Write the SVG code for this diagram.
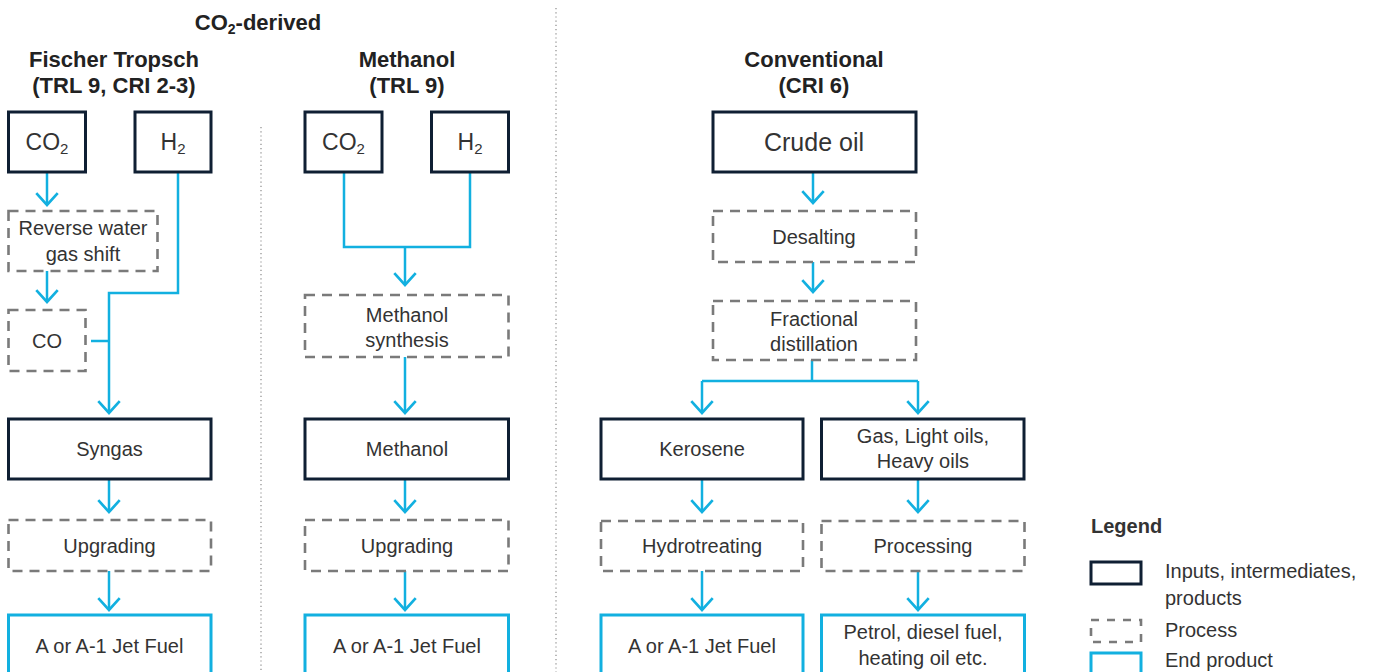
<svg xmlns="http://www.w3.org/2000/svg" width="1389" height="672" viewBox="0 0 1389 672">
  <style>
    .solid { fill: #ffffff; stroke: #0f1f33; stroke-width: 3; }
    .dash { fill: #ffffff; stroke: #7a7a7a; stroke-width: 2.6; stroke-dasharray: 10 7; }
    .end { fill: #ffffff; stroke: #12b0e0; stroke-width: 3; }
    .conn { fill: none; stroke: #12b0e0; stroke-width: 2.5; }
    .sep { fill: none; stroke: #8a8a8a; stroke-width: 1.2; stroke-dasharray: 1.2 3; }
    .t { font-family: "Liberation Sans", Arial, sans-serif; font-size: 20px; fill: #333333; text-anchor: middle; }
    .big { font-size: 23px; }
    .huge { font-size: 25px; }
    .title { font-family: "Liberation Sans", Arial, sans-serif; font-size: 22px; font-weight: bold; fill: #222222; text-anchor: middle; }
    .leg { font-family: "Liberation Sans", Arial, sans-serif; font-size: 20px; fill: #333333; }
  </style>
  <defs>
    <marker id="arrow" markerUnits="userSpaceOnUse" markerWidth="30" markerHeight="30" viewBox="-14 -14 28 28" refX="0" refY="0" orient="auto">
      <path d="M-11,-10 L0,0 L-11,10" fill="none" stroke="#12b0e0" stroke-width="2.5"/>
    </marker>
  </defs>

  <rect width="1389" height="672" fill="#ffffff"/>

  <!-- column separators -->
  <g id="separators">
    <line class="sep" x1="261" y1="127" x2="261" y2="672"/>
    <line class="sep" x1="556" y1="8" x2="556" y2="672"/>
  </g>

  <!-- headings -->
  <g id="headings">
    <text class="title" x="258" y="30">CO<tspan font-size="14" dy="4">2</tspan><tspan dy="-4">-derived</tspan></text>
    <text class="title" x="114" y="67">Fischer Tropsch</text>
    <text class="title" x="114" y="93">(TRL 9, CRI 2-3)</text>
    <text class="title" x="407" y="67">Methanol</text>
    <text class="title" x="407" y="93">(TRL 9)</text>
    <text class="title" x="814" y="67">Conventional</text>
    <text class="title" x="814" y="93">(CRI 6)</text>
  </g>

  <!-- connectors -->
  <g id="connectors">
    <path class="conn" d="M47,172 V205" marker-end="url(#arrow)"/>
    <path class="conn" d="M47,271 V302" marker-end="url(#arrow)"/>
    <path class="conn" d="M178,172 V293 H109 V413" marker-end="url(#arrow)"/>
    <path class="conn" d="M91,341 H109"/>
    <path class="conn" d="M109,479 V512" marker-end="url(#arrow)"/>
    <path class="conn" d="M109,571 V610" marker-end="url(#arrow)"/>

    <path class="conn" d="M344,172 V247 H470 V172"/>
    <path class="conn" d="M405,247 V285" marker-end="url(#arrow)"/>
    <path class="conn" d="M405,357 V413" marker-end="url(#arrow)"/>
    <path class="conn" d="M405,479 V512" marker-end="url(#arrow)"/>
    <path class="conn" d="M405,571 V610" marker-end="url(#arrow)"/>

    <path class="conn" d="M813,172 V203" marker-end="url(#arrow)"/>
    <path class="conn" d="M813,262 V292" marker-end="url(#arrow)"/>
    <path class="conn" d="M812,360 V381"/>
    <path class="conn" d="M702,381 H918"/>
    <path class="conn" d="M702,381 V413" marker-end="url(#arrow)"/>
    <path class="conn" d="M918,381 V413" marker-end="url(#arrow)"/>
    <path class="conn" d="M702,479 V512" marker-end="url(#arrow)"/>
    <path class="conn" d="M918,479 V512" marker-end="url(#arrow)"/>
    <path class="conn" d="M702,571 V610" marker-end="url(#arrow)"/>
    <path class="conn" d="M918,571 V610" marker-end="url(#arrow)"/>
  </g>

  <!-- Fischer Tropsch column -->
  <g id="ft-co2"><rect class="solid" x="8.5" y="112" width="77" height="60"/>
    <text class="t big" x="47" y="150">CO<tspan font-size="15" dy="4">2</tspan></text></g>
  <g id="ft-h2"><rect class="solid" x="135" y="112" width="76" height="60"/>
    <text class="t big" x="173" y="150">H<tspan font-size="15" dy="4">2</tspan></text></g>
  <g id="ft-rwgs"><rect class="dash" x="8.5" y="211" width="149" height="60"/>
    <text class="t" x="83" y="235">Reverse water</text>
    <text class="t" x="83" y="261">gas shift</text></g>
  <g id="ft-co"><rect class="dash" x="8.5" y="310" width="77" height="61"/>
    <text class="t" x="47" y="348">CO</text></g>
  <g id="ft-syngas"><rect class="solid" x="8.5" y="419" width="202.5" height="60"/>
    <text class="t" x="109.5" y="456">Syngas</text></g>
  <g id="ft-upgrading"><rect class="dash" x="8.5" y="520" width="202.5" height="51"/>
    <text class="t" x="109.5" y="553">Upgrading</text></g>
  <g id="ft-jetfuel"><rect class="end" x="8.5" y="615" width="202.5" height="80"/>
    <text class="t" x="109.5" y="653">A or A-1 Jet Fuel</text></g>

  <!-- Methanol column -->
  <g id="me-co2"><rect class="solid" x="305" y="112" width="77" height="60"/>
    <text class="t big" x="343.5" y="150">CO<tspan font-size="15" dy="4">2</tspan></text></g>
  <g id="me-h2"><rect class="solid" x="431.5" y="112" width="77" height="60"/>
    <text class="t big" x="470" y="150">H<tspan font-size="15" dy="4">2</tspan></text></g>
  <g id="me-synthesis"><rect class="dash" x="305" y="295" width="203.5" height="62"/>
    <text class="t" x="407" y="322">Methanol</text>
    <text class="t" x="407" y="347">synthesis</text></g>
  <g id="me-methanol"><rect class="solid" x="305" y="419" width="203.5" height="60"/>
    <text class="t" x="407" y="456">Methanol</text></g>
  <g id="me-upgrading"><rect class="dash" x="305" y="520" width="203.5" height="51"/>
    <text class="t" x="407" y="553">Upgrading</text></g>
  <g id="me-jetfuel"><rect class="end" x="305" y="615" width="203.5" height="80"/>
    <text class="t" x="407" y="653">A or A-1 Jet Fuel</text></g>

  <!-- Conventional column -->
  <g id="cv-crude"><rect class="solid" x="713" y="112" width="203" height="60"/>
    <text class="t huge" x="814" y="151">Crude oil</text></g>
  <g id="cv-desalting"><rect class="dash" x="713" y="211" width="203" height="51"/>
    <text class="t" x="814" y="244">Desalting</text></g>
  <g id="cv-fractional"><rect class="dash" x="713" y="301" width="203" height="59"/>
    <text class="t" x="814" y="326">Fractional</text>
    <text class="t" x="814" y="351">distillation</text></g>
  <g id="cv-kerosene"><rect class="solid" x="601" y="419" width="202" height="60"/>
    <text class="t" x="702" y="456">Kerosene</text></g>
  <g id="cv-oils"><rect class="solid" x="821.5" y="419" width="202.5" height="60"/>
    <text class="t" x="923" y="443">Gas, Light oils,</text>
    <text class="t" x="923" y="468">Heavy oils</text></g>
  <g id="cv-hydrotreating"><rect class="dash" x="601" y="521" width="202" height="50"/>
    <text class="t" x="702" y="553">Hydrotreating</text></g>
  <g id="cv-processing"><rect class="dash" x="821.5" y="521" width="203" height="50"/>
    <text class="t" x="923" y="553">Processing</text></g>
  <g id="cv-jetfuel"><rect class="end" x="601" y="615" width="202" height="80"/>
    <text class="t" x="702" y="653">A or A-1 Jet Fuel</text></g>
  <g id="cv-petrol"><rect class="end" x="821.5" y="615" width="203" height="80"/>
    <text class="t" x="923" y="639">Petrol, diesel fuel,</text>
    <text class="t" x="923" y="665">heating oil etc.</text></g>

  <!-- legend -->
  <g id="legend">
    <text class="leg" x="1091" y="533" font-weight="bold" fill="#222222">Legend</text>
    <rect class="solid" x="1091" y="562" width="50" height="22"/>
    <text class="leg" x="1165" y="578">Inputs, intermediates,</text>
    <text class="leg" x="1165" y="605">products</text>
    <rect class="dash" x="1091" y="620" width="50" height="22" style="stroke-dasharray: 8 8"/>
    <text class="leg" x="1165" y="637">Process</text>
    <rect class="end" x="1091" y="653" width="50" height="40"/>
    <text class="leg" x="1165" y="667">End product</text>
  </g>
</svg>
